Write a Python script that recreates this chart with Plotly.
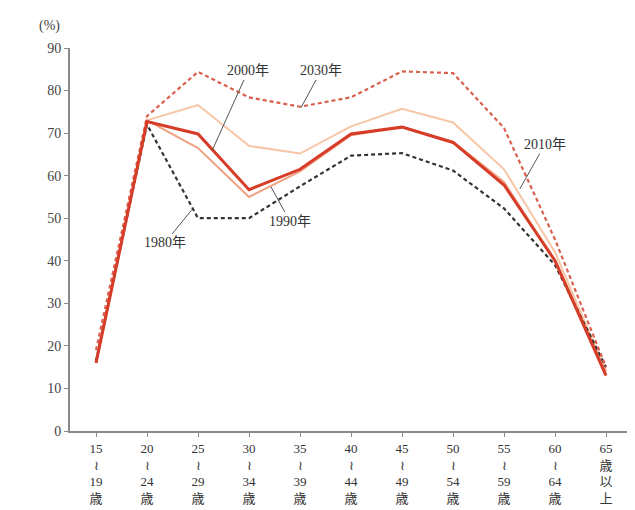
import plotly.graph_objects as go

age_labels = ["15<br>≀<br>19<br>歳", "20<br>≀<br>24<br>歳", "25<br>≀<br>29<br>歳", "30<br>≀<br>34<br>歳",
              "35<br>≀<br>39<br>歳", "40<br>≀<br>44<br>歳", "45<br>≀<br>49<br>歳", "50<br>≀<br>54<br>歳",
              "55<br>≀<br>59<br>歳", "60<br>≀<br>64<br>歳", "65<br>歳<br>以<br>上"]
x_idx = list(range(len(age_labels)))

y1980 = [16.5, 72, 50, 50, 57.5, 64.7, 65.3, 61.2, 52.3, 39, 15]
y1990 = [16, 73, 66.5, 55, 61, 69.5, 71.5, 68, 58.5, 40, 14]
y2000 = [16, 72.7, 69.8, 56.7, 61.5, 69.8, 71.4, 67.8, 57.8, 40, 13]
y2010 = [16, 73, 76.6, 67, 65.2, 71.6, 75.7, 72.5, 61.5, 42, 14]
y2030 = [19, 74, 84.4, 78.4, 76.2, 78.4, 84.5, 84.1, 71.2, 45, 15]

fig = go.Figure()
fig.add_trace(go.Scatter(x=x_idx, y=y2010, mode="lines", line=dict(color="#f6c6a6", width=2)))
fig.add_trace(go.Scatter(x=x_idx, y=y1990, mode="lines", line=dict(color="#f0a282", width=2)))
fig.add_trace(go.Scatter(x=x_idx, y=y1980, mode="lines", line=dict(color="#333333", width=2.2, dash="4px,3px")))
fig.add_trace(go.Scatter(x=x_idx, y=y2030, mode="lines", line=dict(color="#d9604c", width=2.2, dash="4px,3px")))
fig.add_trace(go.Scatter(x=x_idx, y=y2000, mode="lines", line=dict(color="#d63c28", width=3)))

font_main = "Liberation Serif, Noto Sans CJK JP, serif"

def label(text, tx, ty, ax, ay):
    fig.add_annotation(x=tx, y=ty, ax=ax, ay=ay, xref="x", yref="y", axref="x", ayref="y",
                       text=text, showarrow=True, arrowhead=0, arrowwidth=1, arrowcolor="#555555",
                       font=dict(family=font_main, size=14, color="#333333"))

# text centers (ax, ay) and pointed positions (x, y) in data units
label("2000年", 2.28, 66, 2.98, 84.6)
label("2030年", 4.02, 76.0, 4.41, 84.6)
label("1980年", 1.88, 52.0, 1.35, 44.2)
label("1990年", 3.43, 57.4, 3.80, 49.3)
label("2010年", 8.31, 56.9, 8.80, 67.3)

fig.add_annotation(x=-0.036, y=1.057, xref="paper", yref="paper", text="(%)", showarrow=False,
                   xanchor="center", yanchor="middle",
                   font=dict(family=font_main, size=14, color="#444444"))

fig.update_layout(
    width=635, height=510,
    margin=dict(l=62, r=13, t=40, b=83),
    paper_bgcolor="white", plot_bgcolor="white",
    showlegend=False,
    font=dict(family=font_main, size=14, color="#444444"),
)
fig.update_xaxes(
    range=[-0.51, 10.47], tickmode="array", tickvals=x_idx, ticktext=age_labels,
    showgrid=False, zeroline=False, showline=True, linecolor="#8a8a8a", linewidth=2,
    ticks="outside", ticklen=4, tickcolor="#8a8a8a", tickfont=dict(size=13, color="#333333"),
)
fig.update_yaxes(
    range=[0, 90], tickvals=list(range(0, 91, 10)),
    showgrid=False, zeroline=False, showline=True, linecolor="#8a8a8a", linewidth=2,
    ticks="outside", ticklen=4, tickcolor="#8a8a8a", tickfont=dict(size=14, color="#444444"),
)
fig.write_html("out.html")
